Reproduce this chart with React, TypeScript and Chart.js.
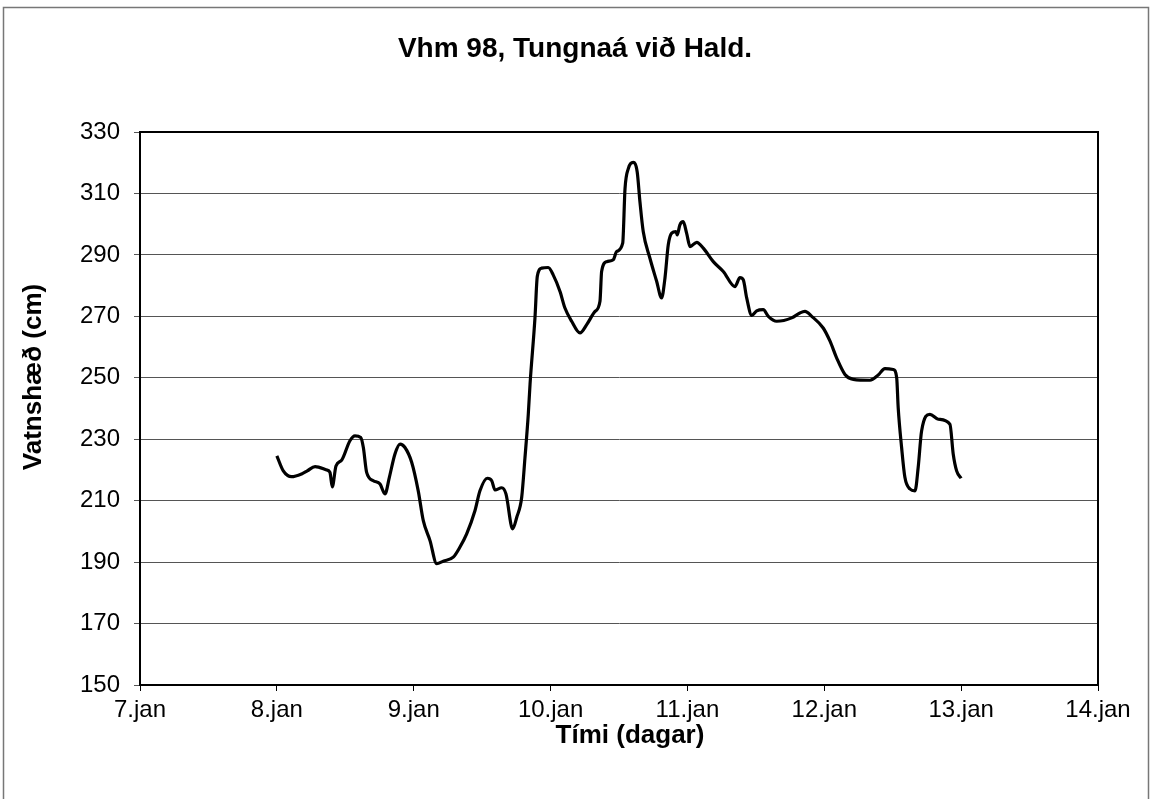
import React, { useEffect, useRef } from "react";
import { Chart, registerables } from "chart.js";

Chart.register(...registerables);

const chartTitle = "Vhm 98, Tungnaá við Hald.";
const yAxisTitle = "Vatnshæð (cm)";
const xAxisTitle = "Tími (dagar)";
const monthSuffix = ".jan";

// time in days of January
const days = [
  8.0, 8.047, 8.108, 8.181, 8.222, 8.279, 8.364, 8.388, 8.405, 8.432, 8.474, 8.534, 8.571, 8.613, 8.632,
  8.656, 8.705, 8.754, 8.79, 8.822, 8.863, 8.9, 8.936, 8.985, 9.033, 9.07, 9.119, 9.168, 9.216, 9.289,
  9.338, 9.387, 9.448, 9.484, 9.538, 9.57, 9.594, 9.643, 9.674, 9.723, 9.753, 9.789, 9.813, 9.837, 9.85,
  9.886, 9.903, 9.935, 9.983, 10.019, 10.069, 10.105, 10.154, 10.215, 10.264, 10.325, 10.361, 10.373,
  10.41, 10.458, 10.483, 10.527, 10.544, 10.568, 10.604, 10.633, 10.653, 10.677, 10.726, 10.775, 10.811,
  10.836, 10.86, 10.885, 10.916, 10.925, 10.945, 10.969, 10.994, 11.019, 11.068, 11.116, 11.189, 11.262,
  11.347, 11.384, 11.408, 11.433, 11.47, 11.506, 11.554, 11.591, 11.652, 11.762, 11.822, 11.859, 11.908,
  11.992, 12.042, 12.09, 12.151, 12.212, 12.334, 12.394, 12.443, 12.504, 12.529, 12.54, 12.565, 12.589,
  12.626, 12.663, 12.686, 12.711, 12.772, 12.833, 12.918, 12.942, 12.967, 13.0,
];

// water level (cm)
const levels = [
  224.6, 219.7, 217.8, 218.7, 219.7, 221.1, 220.0, 219.2, 214.5, 221.3, 223.2, 229.5, 231.1, 230.6, 227.3,
  219.2, 216.5, 215.4, 212.2, 217.6, 225.2, 228.4, 227.3, 222.5, 213.2, 203.5, 197.0, 189.5, 190.3, 191.6,
  194.9, 199.2, 206.8, 213.2, 217.3, 216.5, 213.5, 214.2, 212.2, 200.8, 204.6, 211.1, 224.0, 238.0, 247.9,
  269.5, 283.0, 285.7, 285.9, 283.5, 278.1, 272.7, 268.4, 264.6, 267.3, 271.6, 274.9, 284.6,
  287.8, 288.4, 291.1, 293.8, 311.6, 318.1, 320.1, 317.0, 307.3, 297.6, 288.9, 281.4, 276.0,
  282.5, 293.3, 297.1, 297.6, 296.5, 299.8, 300.8, 297.1, 292.7, 294.1, 292.2, 287.8, 284.6,
  279.7, 282.6, 281.9, 276.0, 270.3, 271.8, 272.2, 270.0, 268.4, 269.5, 271.1, 271.6, 270.0,
  266.2, 261.9, 256.5, 251.1, 249.5, 249.2, 250.9, 253.0, 252.7, 250.0, 240.3, 227.3, 217.6,
  213.8, 213.2, 220.8, 232.7, 238.1, 236.5, 234.9, 225.2, 219.7, 217.3,
];

const xMin = 7;
const xMax = 14;
const yMin = 150;
const yMax = 330;
const yStep = 20;

const FONT = "'Liberation Sans', Arial, sans-serif";

const framePlugin = {
  id: "frame",
  beforeDraw(chart: any) {
    const { ctx, width, height } = chart;
    ctx.save();
    ctx.fillStyle = "#ffffff";
    ctx.fillRect(0, 0, width, height);
    ctx.strokeStyle = "#777";
    ctx.lineWidth = 1.5;
    ctx.strokeRect(3.5, 7.5, width - 5, height);
    ctx.restore();
  },
  afterDraw(chart: any) {
    const { ctx, chartArea, width } = chart;
    ctx.save();
    ctx.strokeStyle = "#000";
    ctx.lineWidth = 2;
    ctx.strokeRect(chartArea.left, chartArea.top, chartArea.right - chartArea.left, chartArea.bottom - chartArea.top);
    ctx.fillStyle = "#000";
    ctx.textAlign = "center";
    ctx.textBaseline = "middle";
    // chart title
    ctx.font = `bold 28px ${FONT}`;
    ctx.fillText(chartTitle, width / 2, 49);
    // x axis title
    ctx.font = `bold 26px ${FONT}`;
    ctx.fillText(xAxisTitle, 630, 736);
    // y axis title
    ctx.translate(34, 377);
    ctx.rotate(-Math.PI / 2);
    ctx.fillText(yAxisTitle, 0, 0);
    ctx.restore();
  },
};

export default function App() {
  const canvasRef = useRef<HTMLCanvasElement | null>(null);

  useEffect(() => {
    if (!canvasRef.current) return;
    const points = days.map((d, i) => ({ x: d, y: levels[i] }));
    const chart = new Chart(canvasRef.current, {
      type: "line",
      data: {
        datasets: [
          {
            data: points,
            borderColor: "#000",
            borderWidth: 3.2,
            pointRadius: 0,
            cubicInterpolationMode: "monotone",
            fill: false,
          },
        ],
      },
      options: {
        animation: false,
        responsive: false,
        maintainAspectRatio: false,
        layout: { padding: { left: 0, right: 52, top: 132, bottom: 0 } },
        plugins: {
          legend: { display: false },
          tooltip: { enabled: false },
          title: { display: false },
        },
        scales: {
          x: {
            type: "linear",
            min: xMin,
            max: xMax,
            afterFit(scale: any) {
              scale.height = 114;
            },
            ticks: {
              stepSize: 1,
              color: "#000",
              font: { family: FONT, size: 24 },
              padding: 5,
              maxRotation: 0,
              callback: (v: any) => `${v}${monthSuffix}`,
            },
            grid: { drawOnChartArea: false, color: "#000", tickLength: 6, lineWidth: 1 },
            border: { display: true, color: "#000", width: 2 },
          },
          y: {
            min: yMin,
            max: yMax,
            afterFit(scale: any) {
              scale.width = 140;
            },
            ticks: {
              stepSize: yStep,
              color: "#000",
              font: { family: FONT, size: 24 },
              padding: 14,
            },
            grid: { color: "#555", tickLength: 6, lineWidth: 1 },
            border: { display: true, color: "#000", width: 2 },
          },
        },
      },
      plugins: [framePlugin],
    });
    return () => chart.destroy();
  }, []);

  return (
    <div style={{ position: "absolute", left: 0, top: 0, width: 1150, height: 799, background: "#fff" }}>
      <canvas ref={canvasRef} width={1150} height={799} style={{ display: "block", width: 1150, height: 799 }} />
    </div>
  );
}
